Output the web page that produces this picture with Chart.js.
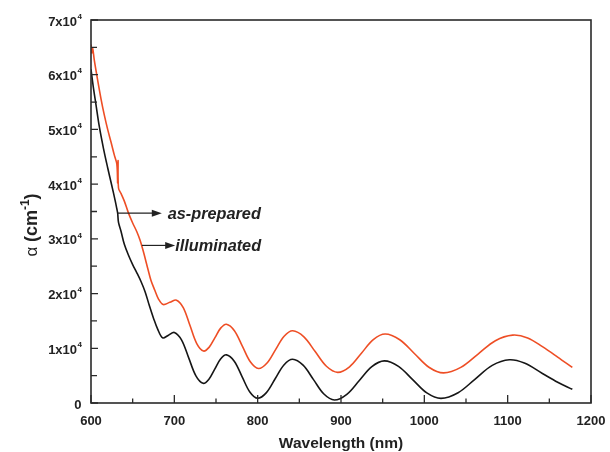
<!DOCTYPE html>
<html>
<head>
<meta charset="utf-8">
<script src="https://cdn.jsdelivr.net/npm/chart.js@4.4.1/dist/chart.umd.min.js"></script>
<style>
html,body{margin:0;padding:0;background:#fff;}
#wrap{width:610px;height:452px;position:relative;}
</style>
</head>
<body>
<div id="wrap"><canvas id="c" width="610" height="452"></canvas></div>
<script>
// ---- data ----
const wlAsPrepared = [600,601,602,604,608,612,616,620,624,628,631,632,632.5,633,636,640,645,650,655,659,663,668.6,672,676.6,681,686.6,694.6,702.6,710.7,718.8,726.9,735,741.9,748.75,755.6,762.5,772.1,781.75,791.4,801,811.25,821.5,831.75,842,855.5,869,882.5,896,910.25,924.5,938.75,953,970.5,988,1005.5,1023,1043.75,1064.5,1085.25,1106,1124,1141.7,1160,1177.6];
const alphaAsPrepared = [65500,64000,64800,62600,59000,55600,52600,50000,47700,45300,43700,40200,44300,39300,38300,36900,34700,32900,31300,29700,27600,24300,22400,20600,19000,18000,18400,18800,17440,14150,10860,9500,10215,11950,13685,14400,13220,10350,7480,6300,7307,9750,12190,13200,12090,9400,6710,5600,6620,9100,11580,12600,11560,9050,6540,5500,6510,8950,11390,12400,11900,10300,8400,6500];

const wlIlluminated = [600,603,606,610,615,620,625,629,631,632,633,636,640,645,650,655,660,665,670,675,680,686,693,700,708.6,717.25,725.9,734.5,741.5,748.5,755.5,762.5,771.9,781.25,790.6,800,810.5,821,831.5,842,854.5,867,879.5,892,907,922,937,952,969,986,1003,1020,1040.5,1061,1081.5,1102,1120,1141.7,1160,1177.6];
const alphaIlluminated = [61000,57500,54500,50500,46500,43000,39700,37000,35500,34700,33000,31400,29000,27000,25300,23800,22200,20300,17800,15500,13500,11900,12400,12900,11540,8250,4960,3600,4360,6200,8040,8800,7640,4830,2020,860,1900,4430,6960,8000,6910,4275,1640,550,1595,4125,6655,7700,6700,4275,1850,850,1880,4375,6870,7900,7300,5400,3800,2500];

const xTickValues = [600,700,800,900,1000,1100,1200];
const xMinorValues = [650,750,850,950,1050,1150];
const yTickValues = [0,10000,20000,30000,40000,50000,60000,70000];
const yTickMantissa = ['0','1x10','2x10','3x10','4x10','5x10','6x10','7x10'];
const yTickExponent = ['','4','4','4','4','4','4','4'];
const yMinorValues = [5000,15000,25000,35000,45000,55000,65000];
const seriesNames = ['as-prepared','illuminated'];

const RED = '#ee4e25';
const BLACK = '#161616';
const AXIS = '#2a2a2a';
const FONT = '"Liberation Sans", Arial, sans-serif';

function toXY(xs, ys){ return xs.map((x,i)=>({x:x, y:ys[i]})); }

const frame = {
  id:'frame',
  afterDraw(chart){
    const ctx = chart.ctx;
    const xs = chart.scales.x, ys = chart.scales.y;
    const a = chart.chartArea;
    ctx.save();
    ctx.strokeStyle = AXIS;
    ctx.lineWidth = 1.6;
    ctx.strokeRect(a.left, a.top, a.right-a.left, a.bottom-a.top);
    ctx.lineWidth = 1.3;
    ctx.beginPath();
    xTickValues.forEach(v=>{const p=xs.getPixelForValue(v); ctx.moveTo(p,a.bottom); ctx.lineTo(p,a.bottom-8);});
    xMinorValues.forEach(v=>{const p=xs.getPixelForValue(v); ctx.moveTo(p,a.bottom); ctx.lineTo(p,a.bottom-4.5);});
    yTickValues.forEach(v=>{const p=ys.getPixelForValue(v); ctx.moveTo(a.left,p); ctx.lineTo(a.left+7,p);});
    yMinorValues.forEach(v=>{const p=ys.getPixelForValue(v); ctx.moveTo(a.left,p); ctx.lineTo(a.left+6,p);});
    ctx.stroke();
    ctx.fillStyle = '#222';
    ctx.font = 'bold 13px ' + FONT;
    ctx.textAlign = 'center';
    ctx.textBaseline = 'middle';
    xTickValues.forEach(v=>{ ctx.fillText(String(v), xs.getPixelForValue(v), 421); });
    yTickValues.forEach((v,i)=>{
      const p = ys.getPixelForValue(v);
      ctx.font = 'bold 8px ' + FONT;
      const ew = yTickExponent[i] ? ctx.measureText(yTickExponent[i]).width : 0;
      const right = a.left - 9;
      if (yTickExponent[i]) {
        ctx.textAlign = 'right';
        ctx.fillText(yTickExponent[i], right, p - 3.5);
      }
      ctx.font = 'bold 13px ' + FONT;
      ctx.textAlign = 'right';
      ctx.fillText(yTickMantissa[i], right - ew - 0.5, p + 2);
    });
    ctx.font = 'bold 15.5px ' + FONT;
    ctx.textAlign = 'center';
    ctx.textBaseline = 'alphabetic';
    ctx.fillText('Wavelength (nm)', (a.left+a.right)/2, 448);
    ctx.save();
    ctx.translate(37, 225);
    ctx.rotate(-Math.PI/2);
    const parts = [
      {t:'\u03B1 ', f:'17px ' + FONT, dy:0},
      {t:'(cm', f:'bold 18px ' + FONT, dy:0},
      {t:'-1', f:'bold 12px ' + FONT, dy:-8},
      {t:')', f:'bold 18px ' + FONT, dy:0}
    ];
    let total = 0;
    parts.forEach(pp=>{ctx.font=pp.f; pp.w=ctx.measureText(pp.t).width; total+=pp.w;});
    let cx = -total/2;
    ctx.textAlign = 'left';
    ctx.textBaseline = 'alphabetic';
    parts.forEach(pp=>{ctx.font=pp.f; ctx.fillText(pp.t, cx, pp.dy); cx+=pp.w;});
    ctx.restore();
    const notes = [
      {label:seriesNames[0], x0:632, y0:34700, x1:685, tx:692},
      {label:seriesNames[1], x0:661, y0:28800, x1:701, tx:701}
    ];
    notes.forEach(n=>{
      const px0=xs.getPixelForValue(n.x0), py=ys.getPixelForValue(n.y0), px1=xs.getPixelForValue(n.x1);
      ctx.strokeStyle = '#222';
      ctx.fillStyle = '#222';
      ctx.lineWidth = 1.2;
      ctx.beginPath(); ctx.moveTo(px0,py); ctx.lineTo(px1-6,py); ctx.stroke();
      ctx.beginPath(); ctx.moveTo(px1,py); ctx.lineTo(px1-10,py-3.5); ctx.lineTo(px1-10,py+3.5); ctx.closePath(); ctx.fill();
      ctx.font = 'italic bold 16.3px ' + FONT;
      ctx.textAlign = 'left';
      ctx.textBaseline = 'middle';
      ctx.fillText(n.label, xs.getPixelForValue(n.tx), py+1);
    });
    ctx.restore();
  }
};

new Chart(document.getElementById('c'), {
  type:'line',
  data:{
    datasets:[
      {label:seriesNames[0], data:toXY(wlAsPrepared, alphaAsPrepared), borderColor:RED, borderWidth:1.6, pointRadius:0, fill:false, tension:0.35},
      {label:seriesNames[1], data:toXY(wlIlluminated, alphaIlluminated), borderColor:BLACK, borderWidth:1.6, pointRadius:0, fill:false, tension:0.35}
    ]
  },
  options:{
    responsive:false,
    animation:false,
    devicePixelRatio:1,
    layout:{padding:{left:91, right:19, top:20, bottom:49}},
    plugins:{legend:{display:false}, tooltip:{enabled:false}},
    scales:{
      x:{type:'linear', min:600, max:1200, display:false},
      y:{type:'linear', min:0, max:70000, display:false}
    }
  },
  plugins:[frame]
});
</script>
</body>
</html>
